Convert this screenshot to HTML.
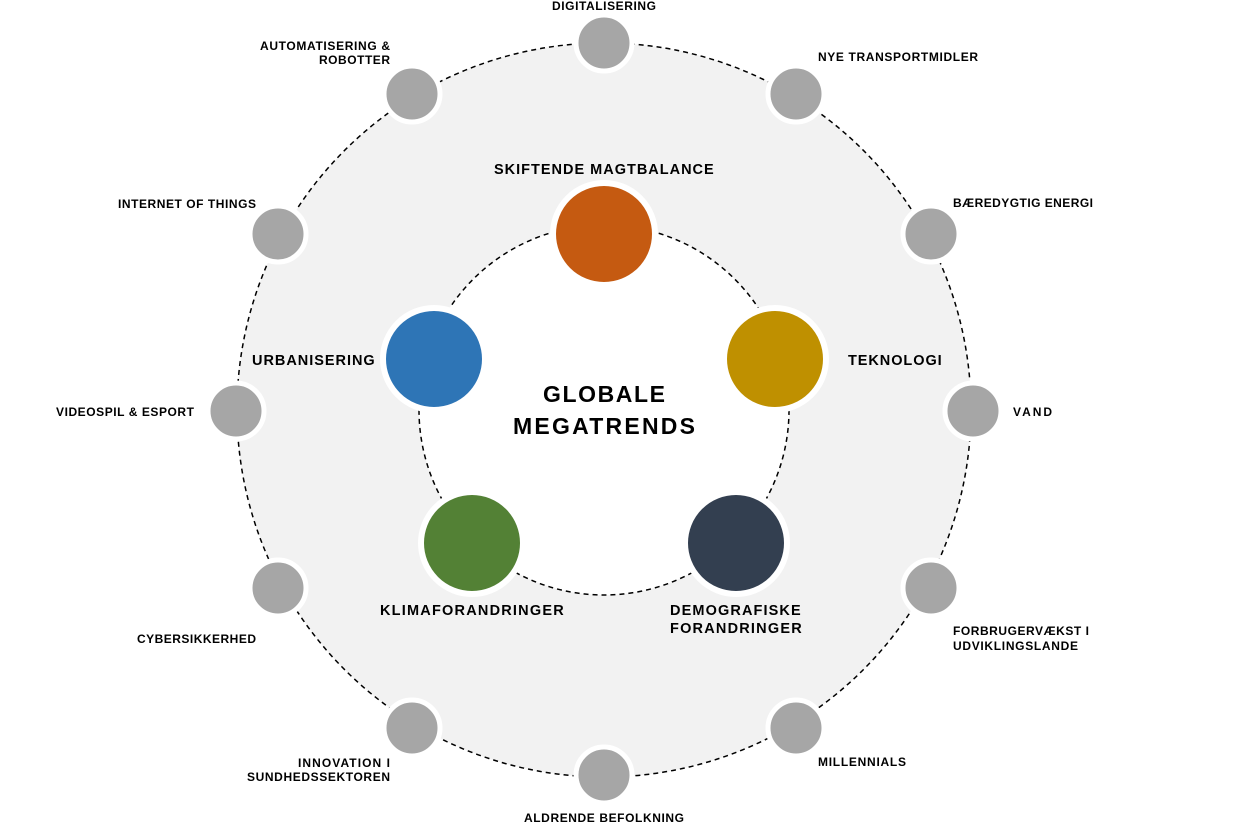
<!DOCTYPE html>
<html><head><meta charset="utf-8"><style>
html,body{margin:0;padding:0;background:#fff;}
svg{display:block;}
text{font-family:"Liberation Sans",sans-serif;font-weight:bold;fill:#000;}
.s{font-size:12px;}
.m{font-size:14.5px;letter-spacing:0.3px;}
</style></head><body>
<svg width="1239" height="823" viewBox="0 0 1239 823">
<circle cx="604" cy="410" r="367" fill="#f2f2f2" stroke="#000" stroke-width="1.5" stroke-dasharray="5,4"/>
<circle cx="604" cy="410" r="185" fill="#fff" stroke="#000" stroke-width="1.5" stroke-dasharray="5,4"/>
<g fill="#a6a6a6" stroke="#fff" stroke-width="5">
<circle cx="604" cy="43" r="28"/><circle cx="796" cy="94" r="28"/><circle cx="931" cy="234" r="28"/>
<circle cx="973" cy="411" r="28"/><circle cx="931" cy="588" r="28"/><circle cx="796" cy="728" r="28"/>
<circle cx="604" cy="775" r="28"/><circle cx="412" cy="728" r="28"/><circle cx="278" cy="588" r="28"/>
<circle cx="236" cy="411" r="28"/><circle cx="278" cy="234" r="28"/><circle cx="412" cy="94" r="28"/>
</g>
<g stroke="#fff" stroke-width="6">
<circle cx="604" cy="234" r="51" fill="#c55a11"/>
<circle cx="434" cy="359" r="51" fill="#2e75b6"/>
<circle cx="775" cy="359" r="51" fill="#bf9000"/>
<circle cx="472" cy="543" r="51" fill="#538135"/>
<circle cx="736" cy="543" r="51" fill="#333f50"/>
</g>
<text x="604" y="402" text-anchor="middle" style="font-size:23px" textLength="122">GLOBALE</text>
<text x="604" y="434" text-anchor="middle" style="font-size:23px" textLength="182">MEGATRENDS</text>
<text class="m" x="604" y="174" text-anchor="middle" textLength="220">SKIFTENDE MAGTBALANCE</text>
<text class="m" x="375" y="365" text-anchor="end" textLength="123">URBANISERING</text>
<text class="m" x="848" y="365" textLength="94">TEKNOLOGI</text>
<text class="m" x="380" y="615" textLength="184">KLIMAFORANDRINGER</text>
<text class="m" x="670" y="615" textLength="131">DEMOGRAFISKE</text>
<text class="m" x="670" y="633" textLength="132">FORANDRINGER</text>
<text class="s" x="604" y="10" text-anchor="middle" textLength="104">DIGITALISERING</text>
<text class="s" x="818" y="61" textLength="160">NYE TRANSPORTMIDLER</text>
<text class="s" x="953" y="207" textLength="140">BÆREDYGTIG ENERGI</text>
<text class="s" x="1013" y="416" textLength="39">VAND</text>
<text class="s" x="953" y="635" textLength="136">FORBRUGERVÆKST I</text>
<text class="s" x="953" y="650" textLength="125">UDVIKLINGSLANDE</text>
<text class="s" x="818" y="766" textLength="88">MILLENNIALS</text>
<text class="s" x="604" y="822" text-anchor="middle" textLength="160">ALDRENDE BEFOLKNING</text>
<text class="s" x="390" y="767" text-anchor="end" textLength="92">INNOVATION I</text>
<text class="s" x="390" y="781" text-anchor="end" textLength="143">SUNDHEDSSEKTOREN</text>
<text class="s" x="256" y="643" text-anchor="end" textLength="119">CYBERSIKKERHED</text>
<text class="s" x="194" y="416" text-anchor="end" textLength="138">VIDEOSPIL &amp; ESPORT</text>
<text class="s" x="256" y="208" text-anchor="end" textLength="138">INTERNET OF THINGS</text>
<text class="s" x="390" y="50" text-anchor="end" textLength="130">AUTOMATISERING &amp;</text>
<text class="s" x="390" y="64" text-anchor="end" textLength="71">ROBOTTER</text>
</svg>
</body></html>
